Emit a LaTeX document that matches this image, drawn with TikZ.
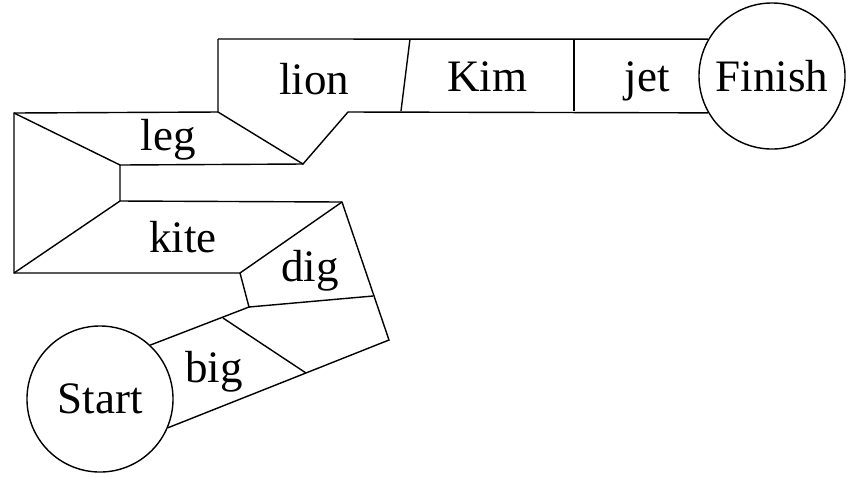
\documentclass[tikz,border=0pt]{standalone}
\usepackage{fontspec}
\setmainfont{Liberation Serif}
\tikzset{
  track/.style={line width=1pt, draw=black, line join=miter},
  goal/.style={circle, draw=black, line width=1pt, minimum size=3.65cm, inner sep=0pt, font=\fontsize{32}{38}\selectfont},
  word/.style={anchor=base, inner sep=0pt, font=\fontsize{32}{38}\selectfont},
}
\begin{document}
\begin{tikzpicture}[x=0.025cm, y=-0.025cm]
\useasboundingbox (0,0) rectangle (866,483);
\node[goal] (start) at (100,399) {Start};
\node[goal] (finish) at (772,76) {Finish};
% outline of the path
\draw[track] (218,39) -- (finish.150);
\draw[track] (finish.210) -- (348,112) -- (303,164) -- (218,112) -- (218,39);
\draw[track] (218,112) -- (14,113) -- (14,273) -- (240,273) -- (249,307) -- (start.47);
\draw[track] (start.-23) -- (389,340) -- (342,202) -- (120,201) -- (120,165) -- (303,164);
% dividers between the squares
\draw[track] (14,113) -- (120,165);
\draw[track] (14,273) -- (120,201);
\draw[track] (240,273) -- (342,202);
\draw[track] (249,307) -- (373,296);
\draw[track] (223,318) -- (306,373);
\draw[track] (410,39) -- (401,111);
\draw[track] (574,39) -- (574,111);
% words
\node[word] (leg) at (168,150) {leg};
\node[word] (kite) at (183,252) {kite};
\node[word] (dig) at (310,281) {dig};
\node[word] (big) at (214,382) {big};
\node[word] (lion) at (314,94) {lion};
\node[word] (kim) at (487,91) {Kim};
\node[word] (jet) at (647,91) {jet};
\end{tikzpicture}
\end{document}
